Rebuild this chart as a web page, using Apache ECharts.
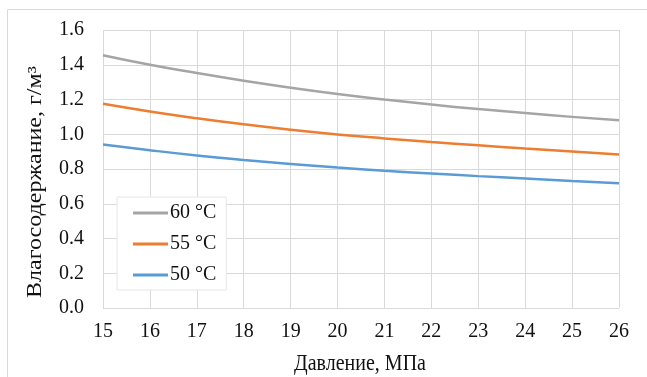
<!DOCTYPE html>
<html>
<head>
<meta charset="utf-8">
<script src="https://cdn.jsdelivr.net/npm/echarts@6/dist/echarts.min.js"></script>
<style>html,body{margin:0;padding:0;background:#fff;}#c{width:647px;height:377px;}</style>
</head>
<body>
<div id="c"></div>
<script>
const pressure = [15, 16, 17, 18, 19, 20, 21, 22, 23, 24, 25, 26];
const t60 = [1.455, 1.400, 1.352, 1.308, 1.268, 1.232, 1.200, 1.171, 1.145, 1.122, 1.100, 1.080];
const t55 = [1.175, 1.131, 1.092, 1.057, 1.026, 0.999, 0.976, 0.955, 0.936, 0.918, 0.901, 0.884];
const t50 = [0.941, 0.908, 0.878, 0.852, 0.829, 0.808, 0.790, 0.774, 0.759, 0.745, 0.731, 0.718];
const seriesNames = ['60 °C', '55 °C', '50 °C'];
const yTicks = [0, 0.2, 0.4, 0.6, 0.8, 1.0, 1.2, 1.4, 1.6];

const font = '"Liberation Serif", "Times New Roman", serif';
const chart = echarts.init(document.getElementById('c'));
const mk = (name, data, color) => ({
  name, type: 'line', smooth: true, symbol: 'none',
  data: pressure.map((p, i) => [p, data[i]]),
  lineStyle: { color, width: 2.5 }, itemStyle: { color }
});
chart.setOption({
  animation: false,
  graphic: [
    { type: 'rect', shape: { x: 7.5, y: 9.5, width: 700, height: 400 }, style: { fill: 'none', stroke: '#D9D9D9', lineWidth: 1 }, z: -10 },
    { type: 'text', x: 360, y: 364, scaleY: 1.15, style: { text: 'Давление, МПа', font: '20px ' + font, fill: '#111', align: 'center', verticalAlign: 'middle' } },
    { type: 'text', x: 36, y: 182, rotation: Math.PI / 2, scaleX: 1.2, style: { text: 'Влагосодержание, г/м³', font: '20px ' + font, fill: '#111', align: 'center', verticalAlign: 'middle' } }
  ],
  grid: { left: 103, right: 28, top: 30, bottom: 69, containLabel: false },
  xAxis: {
    type: 'value', min: 15, max: 26, interval: 1,
    axisLine: { show: false }, axisTick: { show: false },
    axisLabel: { color: '#111', fontSize: 20, fontFamily: font, margin: 14 },
    splitLine: { show: true, lineStyle: { color: '#D9D9D9', width: 1 } }
  },
  yAxis: {
    type: 'value', min: 0, max: 1.6, interval: 0.2,
    axisLine: { show: false }, axisTick: { show: false },
    axisLabel: { color: '#111', fontSize: 20, fontFamily: font, margin: 19,
      formatter: v => { const t = yTicks.find(x => Math.abs(x - v) < 1e-9); return (t !== undefined ? t : v).toFixed(1); } },
    splitLine: { show: true, lineStyle: { color: '#D9D9D9', width: 1 } }
  },
  legend: {
    orient: 'vertical', left: 117, top: 197,
    padding: [6, 10, 5, 16],
    backgroundColor: '#fff', borderColor: '#E6E6E6', borderWidth: 1,
    icon: 'rect', itemWidth: 35, itemHeight: 3, itemGap: 11,
    textStyle: { color: '#111', fontSize: 20, fontFamily: font, padding: [0, 0, 0, -3] },
    data: seriesNames
  },
  series: [
    mk(seriesNames[0], t60, '#A5A5A5'),
    mk(seriesNames[1], t55, '#ED7D31'),
    mk(seriesNames[2], t50, '#5B9BD5')
  ]
});
</script>
</body>
</html>
